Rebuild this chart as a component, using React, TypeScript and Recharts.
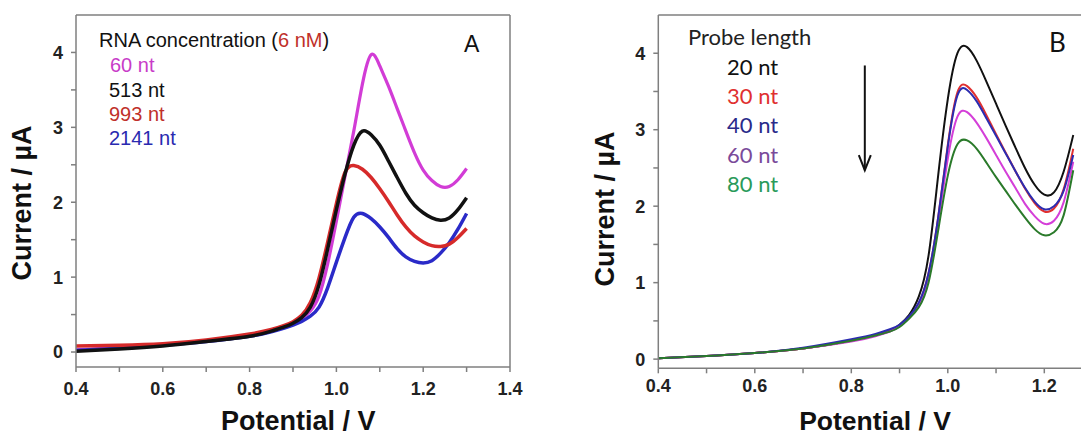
import React from 'react';
import { LineChart, Line, XAxis, YAxis, ReferenceLine } from 'recharts';

// ---------- Panel A data (potential in V, current in µA) ----------
const potentialA = [0.4, 0.5, 0.6, 0.7, 0.8, 0.85, 0.88, 0.9, 0.92, 0.94, 0.96, 0.98, 1.0, 1.02, 1.04, 1.06, 1.08, 1.1, 1.12, 1.14, 1.16, 1.18, 1.2, 1.22, 1.24, 1.26, 1.28, 1.3];
const rna60 = [0.03, 0.06, 0.10, 0.15, 0.23, 0.29, 0.34, 0.385, 0.45, 0.55, 0.75, 1.18, 1.75, 2.35, 2.95, 3.58, 3.97, 3.82, 3.55, 3.25, 2.95, 2.66, 2.43, 2.29, 2.21, 2.21, 2.30, 2.45];
const rna513 = [0.01, 0.04, 0.08, 0.14, 0.21, 0.28, 0.335, 0.385, 0.46, 0.60, 0.90, 1.38, 1.90, 2.38, 2.76, 2.95, 2.90, 2.76, 2.55, 2.33, 2.12, 1.96, 1.86, 1.79, 1.76, 1.79, 1.90, 2.06];
const rna993 = [0.08, 0.09, 0.11, 0.16, 0.24, 0.30, 0.355, 0.405, 0.49, 0.66, 0.99, 1.47, 1.98, 2.40, 2.49, 2.44, 2.33, 2.18, 2.01, 1.83, 1.67, 1.55, 1.47, 1.42, 1.41, 1.44, 1.53, 1.65];
const rna2141 = [0.02, 0.05, 0.09, 0.14, 0.21, 0.27, 0.32, 0.36, 0.41, 0.48, 0.60, 0.86, 1.20, 1.53, 1.80, 1.85, 1.78, 1.67, 1.53, 1.38, 1.27, 1.21, 1.19, 1.22, 1.32, 1.46, 1.64, 1.85];

// ---------- Panel B data ----------
const potentialB = [0.4, 0.5, 0.6, 0.7, 0.8, 0.85, 0.88, 0.9, 0.92, 0.94, 0.96, 0.98, 1.0, 1.02, 1.04, 1.06, 1.08, 1.1, 1.12, 1.14, 1.16, 1.18, 1.2, 1.22, 1.24, 1.26];
const probe20 = [0.01, 0.04, 0.08, 0.14, 0.24, 0.31, 0.37, 0.45, 0.58, 0.82, 1.35, 2.40, 3.40, 4.00, 4.08, 3.90, 3.63, 3.34, 3.05, 2.77, 2.50, 2.28, 2.15, 2.18, 2.45, 2.93];
const probe30 = [0.01, 0.04, 0.08, 0.14, 0.24, 0.31, 0.37, 0.44, 0.55, 0.73, 1.12, 1.85, 2.80, 3.49, 3.57, 3.42, 3.19, 2.94, 2.70, 2.46, 2.23, 2.04, 1.93, 1.97, 2.22, 2.75];
const probe40 = [0.01, 0.04, 0.08, 0.15, 0.26, 0.33, 0.39, 0.45, 0.56, 0.74, 1.12, 1.85, 2.78, 3.45, 3.52, 3.37, 3.15, 2.92, 2.69, 2.46, 2.24, 2.06, 1.96, 2.00, 2.20, 2.67];
const probe60 = [0.01, 0.04, 0.08, 0.14, 0.23, 0.30, 0.36, 0.43, 0.54, 0.71, 1.06, 1.78, 2.62, 3.17, 3.23, 3.09, 2.89, 2.67, 2.45, 2.24, 2.03, 1.87, 1.77, 1.81, 2.05, 2.58];
const probe80 = [0.01, 0.04, 0.08, 0.14, 0.24, 0.31, 0.36, 0.42, 0.53, 0.68, 1.00, 1.68, 2.40, 2.81, 2.86, 2.75, 2.57, 2.38, 2.20, 2.02, 1.85, 1.70, 1.62, 1.66, 1.88, 2.47];

// ---------- ticks ----------
const xTicksA = [0.4, 0.5, 0.6, 0.7, 0.8, 0.9, 1.0, 1.1, 1.2, 1.3, 1.4];
const xTicksB = [0.4, 0.5, 0.6, 0.7, 0.8, 0.9, 1.0, 1.1, 1.2, 1.3];
const yTicks = [0, 0.5, 1, 1.5, 2, 2.5, 3, 3.5, 4];

// arrow annotation (panel B), in data units
const arrowPotential = 0.828;
const arrowFrom = 3.84;
const arrowTo = 2.47;

const dataA = potentialA.map((v, i) => ({ v, a60: rna60[i], a513: rna513[i], a993: rna993[i], a2141: rna2141[i] }));
const dataB = potentialB.map((v, i) => ({ v, b20: probe20[i], b30: probe30[i], b40: probe40[i], b60: probe60[i], b80: probe80[i] }));

const AXIS = '#7f7f7f';
const SANS = "'Liberation Sans', Arial, Helvetica, sans-serif";
const CAL = "Lato, 'Open Sans', sans-serif";

const XTick = (props: any) => {
  const { x, y, payload } = props;
  const v = payload.value as number;
  if (Math.round(v * 10) % 2 !== 0) return <g />;
  return (
    <text x={x} y={y} dy="0.71em" textAnchor="middle" fontFamily={SANS} fontWeight="bold" fontSize={18} fill="#222">
      {v.toFixed(1)}
    </text>
  );
};

const YTick = (props: any) => {
  const { x, y, payload } = props;
  const v = payload.value as number;
  if (!Number.isInteger(v)) return <g />;
  return (
    <text x={x} y={y} dy="0.355em" textAnchor="end" fontFamily={SANS} fontWeight="bold" fontSize={18} fill="#222">
      {String(v)}
    </text>
  );
};

const Arrow = (props: any) => {
  const { x1, y1, x2, y2 } = props;
  return (
    <g>
      <line x1={x1} y1={y1} x2={x2} y2={y2} stroke="#111" strokeWidth={2} />
      <polyline points={`${x2 - 6},${y2 - 15} ${x2},${y2} ${x2 + 6},${y2 - 15}`} fill="none" stroke="#111" strokeWidth={2} />
    </g>
  );
};

const axisProps = {
  axisLine: { stroke: AXIS, strokeWidth: 1.5 },
  tickLine: { stroke: AXIS, strokeWidth: 1.5 },
};

export default function App() {
  return (
    <div style={{ position: 'absolute', left: 0, top: 0, width: 1081, height: 435, overflow: 'hidden', background: '#fff' }}>
      <div style={{ position: 'absolute', left: 0, top: 0 }}>
        <LineChart width={540} height={435} data={dataA} margin={{ top: 15, right: 30, bottom: 28, left: 16 }}>
          <XAxis type="number" dataKey="v" domain={[0.4, 1.4]} ticks={xTicksA} allowDataOverflow height={40}
            tick={XTick} tickSize={5} tickMargin={10} {...axisProps} />
          <YAxis type="number" domain={[-0.2, 4.5]} ticks={yTicks} allowDataOverflow width={60}
            tick={YTick} tickSize={5} tickMargin={8} {...axisProps} />
          <ReferenceLine y={4.5} stroke={AXIS} strokeWidth={1.5} />
          <ReferenceLine x={1.4} stroke={AXIS} strokeWidth={1.5} />
          <Line dataKey="a60" type="natural" stroke="#d23cd6" strokeWidth={3.2} dot={false} isAnimationActive={false} />
          <Line dataKey="a2141" type="natural" stroke="#2a2ac8" strokeWidth={3.5} dot={false} isAnimationActive={false} />
          <Line dataKey="a993" type="natural" stroke="#d62a2a" strokeWidth={3.5} dot={false} isAnimationActive={false} />
          <Line dataKey="a513" type="natural" stroke="#111111" strokeWidth={3.5} dot={false} isAnimationActive={false} />
        </LineChart>
      </div>
      <div style={{ position: 'absolute', left: 540, top: 0 }}>
        <LineChart width={573} height={435} data={dataB} margin={{ top: 15, right: 20.45, bottom: 26.7, left: 58.3 }}>
          <XAxis type="number" dataKey="v" domain={[0.4, 1.3]} ticks={xTicksB} allowDataOverflow height={40}
            tick={XTick} tickSize={5} tickMargin={6} {...axisProps} />
          <YAxis type="number" domain={[-0.12, 4.5]} ticks={yTicks} allowDataOverflow width={60}
            tick={YTick} tickSize={5} tickMargin={8} {...axisProps} />
          <ReferenceLine y={4.5} stroke={AXIS} strokeWidth={1.5} />
          <ReferenceLine
            segment={[{ x: arrowPotential, y: arrowFrom }, { x: arrowPotential, y: arrowTo }]}
            shape={Arrow}
          />
          <Line dataKey="b20" type="natural" stroke="#111111" strokeWidth={2} dot={false} isAnimationActive={false} />
          <Line dataKey="b30" type="natural" stroke="#e03030" strokeWidth={2} dot={false} isAnimationActive={false} />
          <Line dataKey="b60" type="natural" stroke="#d43fd8" strokeWidth={2} dot={false} isAnimationActive={false} />
          <Line dataKey="b40" type="natural" stroke="#2c2cb0" strokeWidth={2} dot={false} isAnimationActive={false} />
          <Line dataKey="b80" type="natural" stroke="#2a7a2a" strokeWidth={2} dot={false} isAnimationActive={false} />
        </LineChart>
      </div>
      <svg width={1081} height={435} style={{ position: 'absolute', left: 0, top: 0, pointerEvents: 'none' }}>
        {/* Panel A texts */}
        <text x={99} y={47.3} fontFamily={SANS} fontSize={20} fill="#111">
          RNA concentration (<tspan fill="#c0302a">6 nM</tspan>)
        </text>
        <text x={110} y={71.7} fontFamily={SANS} fontSize={20} fill="#c83cc8">60 nt</text>
        <text x={109} y={96.7} fontFamily={SANS} fontSize={20} fill="#111">513 nt</text>
        <text x={109} y={120.7} fontFamily={SANS} fontSize={20} fill="#c0302a">993 nt</text>
        <text x={109} y={145} fontFamily={SANS} fontSize={20} fill="#2a2ab0">2141 nt</text>
        <text x={464} y={51.7} fontFamily={SANS} fontSize={23} fill="#111">A</text>
        <text x={298.3} y={429.5} textAnchor="middle" fontFamily={SANS} fontWeight="bold" fontSize={27} fill="#111">Potential / V</text>
        <text x={31} y={203} textAnchor="middle" transform="rotate(-90 31 203)" fontFamily={SANS} fontWeight="bold" fontSize={27} fill="#111">Current / µA</text>
        {/* Panel B texts */}
        <text x={688} y={45} fontFamily={CAL} fontSize={22} fill="#222">Probe length</text>
        <text x={727} y={75} fontFamily={CAL} fontSize={22} fill="#111">20 nt</text>
        <text x={727} y={104} fontFamily={CAL} fontSize={22} fill="#e03030">30 nt</text>
        <text x={727} y={133.3} fontFamily={CAL} fontSize={22} fill="#2a2a8a">40 nt</text>
        <text x={727} y={162.7} fontFamily={CAL} fontSize={22} fill="#7a4a9a">60 nt</text>
        <text x={727} y={192} fontFamily={CAL} fontSize={22} fill="#2a9a5a">80 nt</text>
        <text x={1049} y={51.7} fontFamily={CAL} fontSize={26} fill="#111">B</text>
        <text x={875} y={430} textAnchor="middle" fontFamily={SANS} fontWeight="bold" fontSize={26.5} fill="#111">Potential / V</text>
        <text x={614} y={209} textAnchor="middle" transform="rotate(-90 614 209)" fontFamily={SANS} fontWeight="bold" fontSize={27} fill="#111">Current / µA</text>
      </svg>
    </div>
  );
}
